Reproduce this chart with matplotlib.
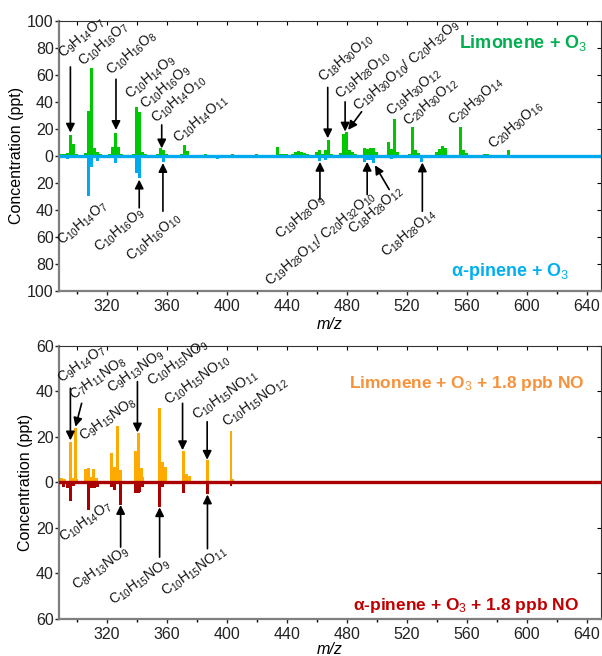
import re
import numpy as np
import matplotlib
matplotlib.use("Agg")
import matplotlib.pyplot as plt
from matplotlib.ticker import MultipleLocator, FuncFormatter

plt.rcParams['font.family'] = ['Liberation Sans', 'DejaVu Sans']
plt.rcParams['mathtext.fontset'] = 'custom'
plt.rcParams['mathtext.rm'] = 'Liberation Sans'
plt.rcParams['mathtext.it'] = 'Liberation Sans:italic'
plt.rcParams['mathtext.bf'] = 'Liberation Sans:bold'

# ---------------- data: panel 1 (limonene vs alpha-pinene, + O3) ----------------
lim_mz = [290, 292, 294, 296, 298, 300, 306, 308, 310, 312, 314, 316,
          322, 324, 326, 328, 330, 338, 340, 342, 344, 346, 354, 356, 358, 360,
          370, 372, 374, 386, 404, 420, 434, 436, 438, 440, 444, 446, 448, 450,
          452, 454, 460, 462, 464, 466, 468, 470, 476, 478, 480, 482, 484, 486,
          492, 494, 496, 498, 500, 508, 510, 512, 514, 522, 524, 526, 528,
          540, 542, 544, 546, 556, 558, 560, 572, 574, 588]
lim_val = [1.0, 1.5, 2.0, 15.5, 9.0, 1.0, 2.0, 33.0, 65.5, 6.0, 3.0, 1.0,
           1.5, 6.5, 17.2, 6.5, 1.0, 1.5, 36.0, 32.5, 3.0, 1.0, 1.5, 5.5, 4.0, 1.0,
           1.5, 8.0, 3.5, 1.0, 1.5, 1.0, 6.2, 1.5, 1.0, 1.5, 1.5, 2.5, 3.5, 2.5,
           2.0, 1.5, 2.5, 4.0, 1.5, 4.5, 11.6, 1.5, 2.0, 16.5, 17.7, 4.0, 3.0, 1.0,
           6.0, 4.7, 6.0, 6.0, 3.0, 10.0, 5.0, 27.5, 3.0, 1.5, 21.0, 4.0, 2.0,
           3.0, 5.0, 7.0, 6.0, 21.0, 4.0, 2.0, 1.5, 1.5, 4.2]

apin_mz = [292, 294, 298, 300, 308, 310, 312, 314, 316, 324, 326, 328,
           340, 342, 344, 356, 358, 360, 372, 394, 412, 422, 432, 442,
           460, 462, 466, 468, 478, 482, 492, 494, 496, 498, 510, 512, 530, 562]
apin_val = [1.0, 2.5, 2.0, 1.5, 30.0, 8.0, 2.0, 3.7, 1.0, 2.0, 5.0, 2.0,
            12.5, 16.7, 2.0, 2.0, 4.4, 1.0, 1.5, 2.5, 1.5, 1.5, 2.0, 1.5,
            2.0, 3.7, 3.0, 2.0, 2.0, 2.0, 4.4, 3.0, 3.0, 5.7, 2.7, 1.5, 4.4, 2.0]

# ---------------- data: panel 2 (+ 1.8 ppb NO) ----------------
limno_mz = [290, 292, 296, 297, 299, 300, 306, 308, 310, 311, 313,
            323, 325, 327, 329, 339, 341, 343, 344, 355, 357, 359,
            371, 373, 375, 387, 403, 404]
limno_val = [2.0, 1.5, 17.8, 2.0, 24.0, 1.5, 5.8, 6.5, 2.5, 6.0, 2.0,
             13.1, 6.9, 24.8, 5.4, 14.0, 21.6, 6.2, 2.5, 32.7, 9.1, 6.9,
             13.9, 3.7, 2.9, 9.8, 22.5, 1.5]

apinno_mz = [291, 294, 296, 298, 308, 310, 312, 314, 323, 325, 329,
             339, 341, 342, 344, 355, 357, 371, 387, 403]
apinno_val = [2.0, 2.3, 8.1, 1.5, 12.2, 2.6, 2.6, 2.2, 2.2, 3.4, 9.7,
              4.5, 4.5, 4.0, 2.0, 10.7, 2.0, 4.5, 5.1, 1.5]

# annotations: (label, text x, text y, arrow tail (x,y) or None, arrow tip (x,y))
ann_top_up = [
    ("C9H14O7", 290.9, 72.3, (295.8, 65.9), (295.8, 17.2)),
    ("C10H16O7", 304.5, 65.9, None, None),
    ("C10H16O8", 323.3, 59.8, (326.2, 56.8), (326.2, 19.2)),
    ("C10H14O9", 335.6, 41.8, None, None),
    ("C10H16O9", 345.5, 34.0, None, None),
    ("C10H14O10", 353.3, 24.1, (356.7, 22.9), (356.7, 5.5)),
    ("C10H14O11", 367.8, 8.9, None, None),
    ("C18H30O10", 464.4, 54.1, (467.4, 50.7), (467.4, 13.0)),
    ("C19H28O10", 475.5, 41.8, (479.0, 40.0), (479.0, 18.0)),
    ("C19H30O10/ C20H32O9", 487.7, 32.7, (490.0, 32.7), (481.0, 19.2)),
    ("C19H30O12", 510.0, 29.0, None, None),
    ("C20H30O12", 521.0, 21.6, None, None),
    ("C20H30O14", 551.0, 22.1, None, None),
    ("C20H30O16", 577.7, 4.9, None, None),
]
ann_top_down = [
    ("C10H14O7", 290.0, -66.9, None, None),
    ("C10H16O9", 314.9, -71.8, (341.7, -38.6), (341.7, -17.7)),
    ("C10H16O10", 336.2, -78.7, (357.5, -41.1), (357.5, -5.4)),
    ("C19H28O9", 435.4, -62.0, (462.2, -32.5), (462.2, -4.5)),
    ("C19H28O11/ C20H32O10", 428.9, -97.4, (493.7, -28.8), (493.7, -4.5)),
    ("C18H28O12", 484.4, -58.3, (508.4, -25.0), (498.9, -7.0)),
    ("C18H28O14", 506.2, -75.5, (530.5, -41.1), (530.5, -5.0)),
]
ann_bot_up = [
    ("C9H14O7", 290.0, 43.6, (295.8, 41.4), (295.8, 18.5)),
    ("C7H11NO8", 297.7, 36.3, (303.3, 34.8), (299.2, 24.5)),
    ("C9H15NO8", 304.4, 17.9, None, None),
    ("C9H13NO9", 323.3, 39.2, (340.5, 44.3), (340.5, 22.0)),
    ("C10H15NO9", 350.0, 42.1, None, None),
    ("C10H15NO10", 361.1, 34.1, (370.6, 34.8), (370.6, 14.2)),
    ("C10H15NO11", 380.0, 27.4, (387.0, 26.7), (387.0, 10.0)),
    ("C10H15NO12", 400.0, 24.2, None, None),
]
ann_bot_down = [
    ("C10H14O7", 291.0, -26.2, None, None),
    ("C8H13NO9", 300.0, -47.4, (329.3, -28.4), (329.3, -9.9)),
    ("C10H15NO9", 324.4, -54.0, (355.3, -32.8), (355.3, -10.9)),
    ("C10H15NO11", 358.9, -50.0, (387.2, -29.1), (387.2, -5.3)),
]

# ---------------- style ----------------
GREEN, BLUE = '#00c800', '#00aaee'
ORANGE, DRED = '#ffaa00', '#aa0000'
GREEN_T, BLUE_T = '#00b050', '#00b0f0'
ORANGE_T, DRED_T = '#f7923a', '#c00000'


def fmt(s):
    return re.sub(r'(\d+)', r'$_{\1}$', s)


fig = plt.figure(figsize=(6.02, 6.56), dpi=100)
ax1 = fig.add_axes([0.0985, 0.557, 0.8995, 0.411])
ax2 = fig.add_axes([0.0985, 0.0564, 0.8995, 0.4162])


def style_axis(ax, ylim, step, xpad):
    ax.set_xlim(288.4, 649.5)
    ax.set_ylim(-ylim, ylim)
    ax.xaxis.set_major_locator(MultipleLocator(40))
    ax.xaxis.set_minor_locator(MultipleLocator(20))
    ax.yaxis.set_major_locator(MultipleLocator(step))
    ax.yaxis.set_major_formatter(FuncFormatter(lambda v, p: f"{abs(v):.0f}"))
    ax.tick_params(axis='both', labelsize=11.5, colors='#222222')
    ax.tick_params(axis='x', which='major', direction='out', length=3, width=1, pad=3)
    ax.tick_params(axis='x', which='minor', direction='out', length=2, width=1)
    ax.tick_params(axis='y', direction='out', length=3, width=1, pad=1)
    for s in ['left', 'bottom']:
        ax.spines[s].set_color('#7f7f7f')
        ax.spines[s].set_linewidth(1.6)
    for s in ['top', 'right']:
        ax.spines[s].set_color('#333333')
        ax.spines[s].set_linewidth(0.8)
    sx = ax.secondary_xaxis('top')
    sx.xaxis.set_major_locator(MultipleLocator(20))
    sx.tick_params(direction='in', length=3, labeltop=False)
    sx.spines['top'].set_visible(False)
    sy = ax.secondary_yaxis('right')
    sy.yaxis.set_major_locator(MultipleLocator(step))
    sy.tick_params(direction='in', length=3, labelright=False)
    sy.spines['right'].set_visible(False)
    ax.set_xlabel('m/z', style='italic', fontsize=11.5, labelpad=xpad)
    ax.set_ylabel('Concentration (ppt)', fontsize=11.5, labelpad=2)


def annotate(ax, items, angle):
    for lab, tx, ty, tail, tip in items:
        ax.text(tx, ty, fmt(lab), rotation=angle, rotation_mode='anchor',
                ha='left', va='baseline', fontsize=10, color='#111111')
        if tail is not None:
            ax.annotate('', xy=tip, xytext=tail,
                        arrowprops=dict(arrowstyle='-|>', color='black', lw=1.2,
                                        mutation_scale=13, shrinkA=0, shrinkB=0))


# panel 1
ax1.bar(lim_mz, lim_val, width=1.8, color=GREEN, linewidth=0, zorder=2)
ax1.bar(apin_mz, -np.array(apin_val), width=1.8, color=BLUE, linewidth=0, zorder=2)
ax1.axhline(0, color=BLUE, lw=2.4, zorder=3)
style_axis(ax1, 100, 20, 2)
annotate(ax1, ann_top_up, 40)
annotate(ax1, ann_top_down, 40)
ax1.text(640.5, 84, 'Limonene + O$_{3}$', color=GREEN_T, fontsize=13,
         fontweight='bold', ha='right', va='center')
ax1.text(628.5, -86, 'α-pinene + O$_{3}$', color=BLUE_T, fontsize=13,
         fontweight='bold', ha='right', va='center')

# panel 2
ax2.bar(limno_mz, limno_val, width=1.8, color=ORANGE, linewidth=0, zorder=2)
ax2.bar(apinno_mz, -np.array(apinno_val), width=1.8, color=DRED, linewidth=0, zorder=2)
ax2.axhline(0, color=DRED, lw=2.4, zorder=3)
style_axis(ax2, 60, 20, 0)
annotate(ax2, ann_bot_up, 35)
annotate(ax2, ann_bot_down, 35)
ax2.text(638.9, 43.6, 'Limonene + O$_{3}$ + 1.8 ppb NO', color=ORANGE_T, fontsize=12.5,
         fontweight='bold', ha='right', va='center')
ax2.text(635.1, -54, 'α-pinene + O$_{3}$ + 1.8 ppb NO', color=DRED_T, fontsize=12.5,
         fontweight='bold', ha='right', va='center')

fig.savefig('out.png', dpi=100)
